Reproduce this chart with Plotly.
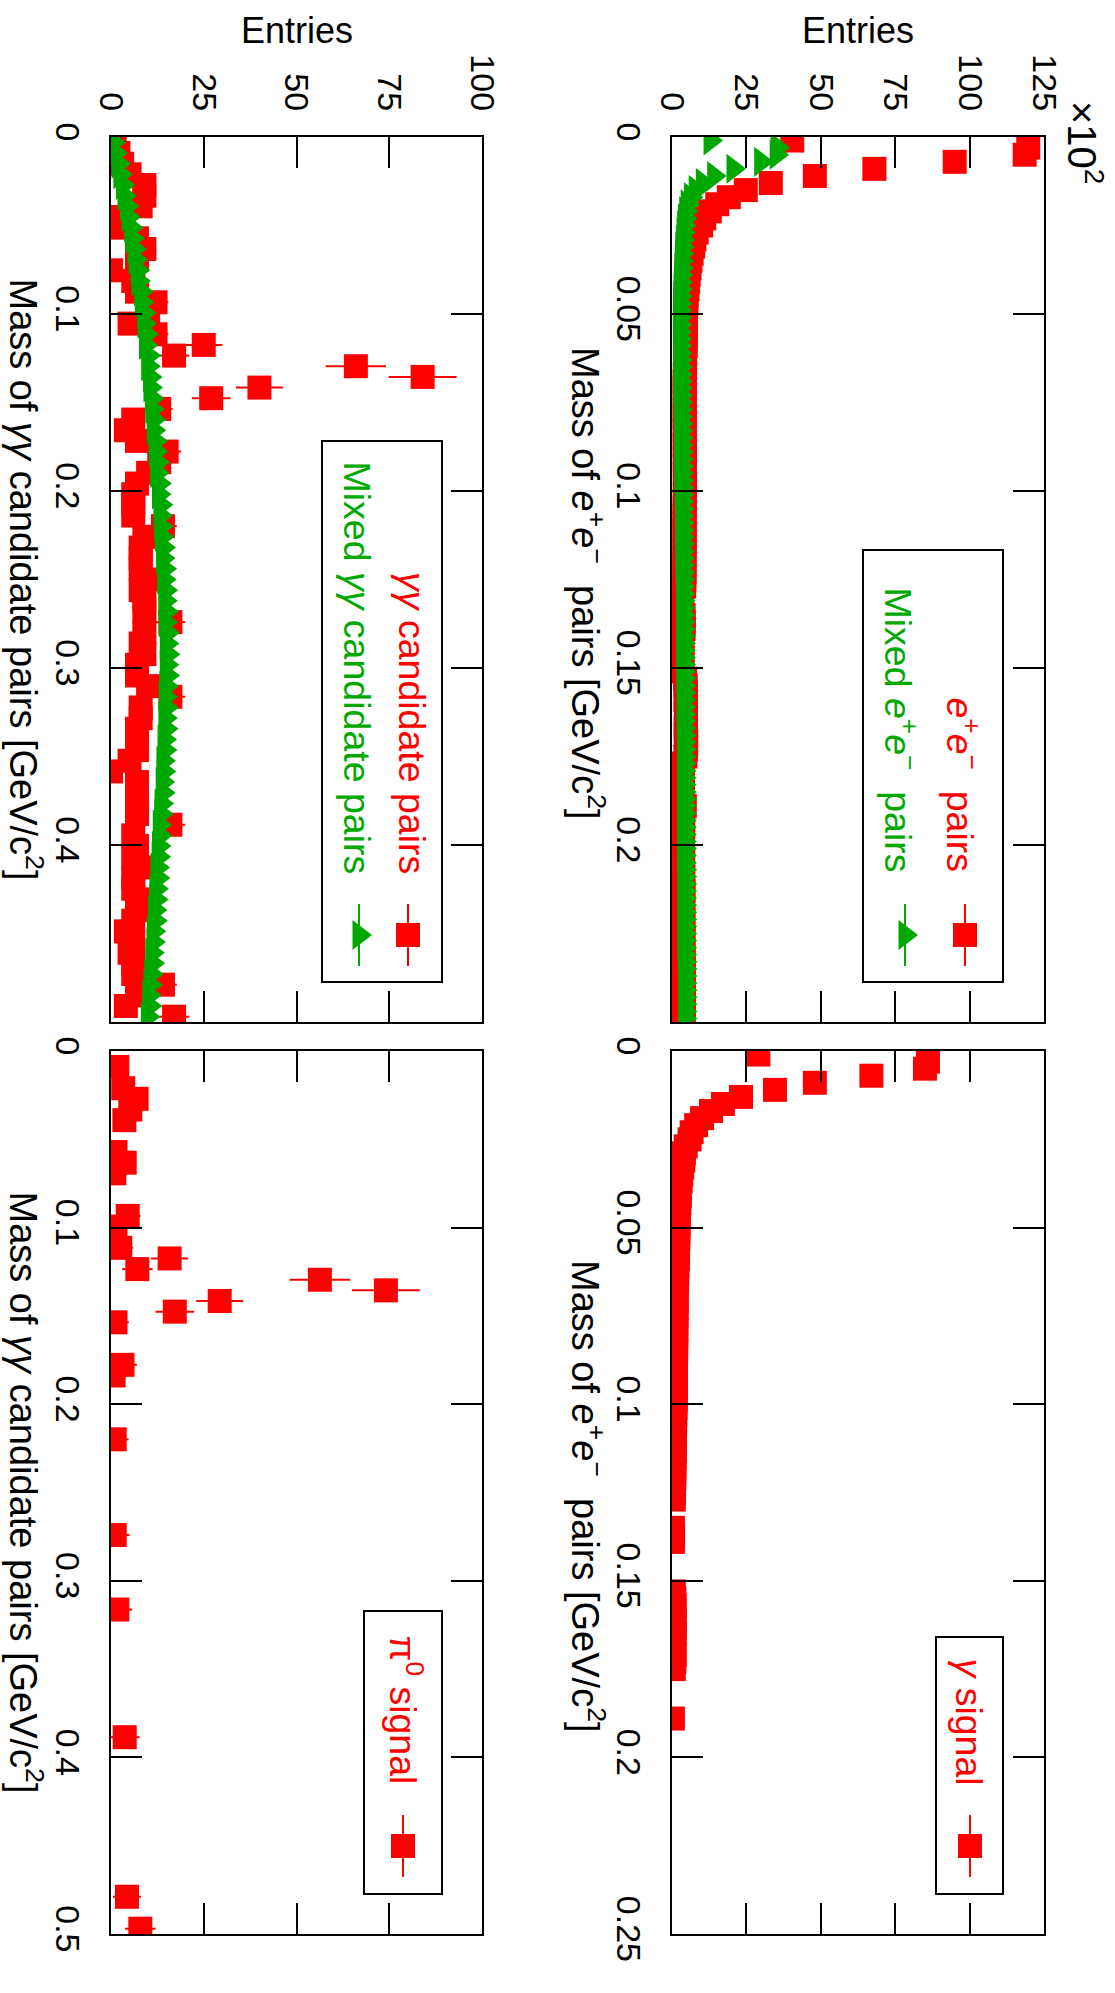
import math
import plotly.graph_objects as go

W, H = 1115, 1993
FONT = "Liberation Sans, Arial, Helvetica, sans-serif"
RED = "#ff0000"
GREEN = "#00a800"

# ---------------- gamma-gamma invariant mass (83 bins, 0 - 0.5 GeV/c^2) ----------------
GG_NBINS = 83
GG_MAX = 0.5

GG_CANDIDATES = [
    1, 2, 3, 5, 9, 9, 8, 1, 2, 7,
    9, 7, 0, 6, 7, 12, 10, 5, 12, 25,
    17, 66, 84, 40, 27, 13, 6, 4, 7, 15,
    13, 10, 7, 6, 6, 6, 14, 9, 8, 8,
    8, 12, 8, 9, 9, 16, 9, 8, 9, 7,
    7, 10, 16, 8, 8, 7, 7, 7, 5, 0,
    7, 7, 7, 7, 16, 6, 7, 6, 9, 6,
    6, 8, 7, 6, 4, 6, 5, 6, 6, 14,
    7, 4, 17,
]

GG_MIXED = [
    0.5, 1.1, 1.9, 2.4, 3.1, 3.5, 4.2, 4.6, 5.3, 5.6,
    6.2, 6.5, 7.1, 7.3, 8.0, 8.2, 8.8, 8.9, 9.4, 9.3,
    10.0, 9.9, 10.4, 10.5, 10.9, 11.0, 11.4, 11.4, 11.9, 12.0,
    12.4, 12.3, 12.9, 12.8, 13.3, 13.2, 13.4, 13.6, 14.0, 13.9,
    14.3, 14.2, 14.6, 14.5, 14.8, 14.6, 15.1, 14.9, 15.2, 14.9,
    15.1, 14.8, 14.6, 14.8, 14.5, 14.7, 14.3, 14.4, 14.0, 14.1,
    13.8, 13.9, 13.5, 13.4, 13.0, 13.1, 12.8, 12.7, 12.4, 12.5,
    12.1, 12.0, 11.7, 11.8, 11.4, 11.3, 11.0, 11.1, 10.7, 10.5,
    10.2, 10.3, 9.8,
]

# background-subtracted pi0 yield; None = bin below zero (not drawn)
PI0_SIGNAL = [
    None, 1.7, None, 3.3, 6.9, 5.2, 3.6, None, None, 1.2,
    3.7, 0.9, None, None, None, 4.5, 1.2, None, 2.5, 15.8,
    7.1, 56.3, 74.1, 29.3, 17.2, 1.2, None, None, None, 3.1,
    0.7, None, None, None, None, None, 1.0, None, None, None,
    None, None, None, None, None, 1.0, None, None, None, None,
    None, None, 1.7, None, None, None, None, None, None, None,
    None, None, None, None, 3.7, None, None, None, None, None,
    None, None, None, None, None, None, None, None, None, 4.3,
    None, None, 7.9,
]

# ---------------- e+e- invariant mass (125 bins, 0 - 0.25 GeV/c^2), entries x 10^2 ----------------
EE_NBINS = 125
EE_MAX = 0.25

EE_PAIRS = [
    40.4, 119.7, 118.5, 95.0, 68.0, 48.0, 33.2, 24.8, 19.1, 15.2,
    12.7, 10.8, 9.8, 8.3, 7.5, 7.1, 6.6, 6.2, 5.9, 5.6,
    5.4, 5.2, 4.9, 4.85, 4.7, 4.65, 4.6, 4.55, 4.6, 4.6,
    4.4, 4.35, 4.4, 4.3, 4.25, 4.25, 4.3, 4.3, 4.25, 4.25,
    4.3, 4.3, 4.3, 4.25, 4.35, 4.3, 4.3, 4.3, 4.35, 4.35,
    4.3, 4.3, 4.25, 4.2, 4.25, 4.2, 4.2, 4.25, 4.2, 4.2,
    4.15, 4.2, 4.15, 4.1, 3.3, 3.4, 3.3, 3.9, 3.95, 3.9,
    3.4, 3.5, 3.4, 3.5, 3.4, 3.5, 4.4, 4.6, 4.7, 4.5,
    4.7, 4.65, 4.7, 4.6, 4.6, 4.8, 4.7, 4.5, 3.6, 3.5,
    3.6, 3.5, 3.7, 3.6, 4.3, 3.7, 3.6, 3.8, 3.5, 3.7,
    3.6, 3.8, 3.5, 3.7, 3.8, 3.6, 3.9, 3.7, 3.8, 3.6,
    3.9, 3.7, 3.8, 3.9, 3.6, 3.8, 3.9, 4.0, 3.8, 3.9,
    4.0, 3.7, 3.9, 4.0, 3.8,
]

EE_MIXED = [
    12.8, 35.3, 35.0, 29.8, 20.5, 14.0, 10.2, 7.8, 6.2, 5.1,
    4.6, 4.2, 3.9, 3.7, 3.5, 3.3, 3.2, 3.1, 3.0, 2.9,
    2.8, 2.7, 2.6, 2.6, 2.5, 2.5, 2.5, 2.5, 2.6, 2.6,
    2.6, 2.6, 2.7, 2.7, 2.7, 2.7, 2.8, 2.8, 2.8, 2.8,
    2.9, 2.9, 2.9, 2.9, 3.0, 3.0, 3.0, 3.0, 3.1, 3.1,
    3.1, 3.2, 3.2, 3.2, 3.3, 3.3, 3.3, 3.4, 3.4, 3.4,
    3.4, 3.5, 3.5, 3.5, 3.5, 3.6, 3.6, 3.6, 3.6, 3.6,
    3.7, 3.7, 3.7, 3.7, 3.7, 3.7, 3.8, 3.8, 3.8, 3.8,
    3.8, 3.8, 3.8, 3.8, 3.9, 3.9, 3.9, 3.9, 3.9, 3.9,
    3.9, 3.9, 4.0, 4.0, 4.0, 4.0, 4.0, 4.0, 4.0, 4.0,
    4.0, 4.0, 4.0, 4.1, 4.1, 4.1, 4.1, 4.1, 4.1, 4.1,
    4.1, 4.1, 4.1, 4.1, 4.1, 4.1, 4.2, 4.2, 4.2, 4.2,
    4.2, 4.2, 4.2, 4.2, 4.2,
]

# photon-conversion signal after mixed-event subtraction; None = below zero
GAMMA_SIGNAL = [
    29, 86, 85, 67, 48, 34.6, 23.2, 17.1, 13.1, 10.1,
    8.1, 6.6, 5.9, 4.6, 4.0, 3.8, 3.4, 3.1, 2.9, 2.7,
    2.6, 2.5, 2.3, 2.25, 2.2, 2.15, 2.1, 2.05, 2.0, 2.0,
    1.8, 1.75, 1.7, 1.6, 1.55, 1.55, 1.5, 1.5, 1.45, 1.45,
    1.4, 1.4, 1.4, 1.35, 1.35, 1.3, 1.3, 1.3, 1.25, 1.25,
    1.2, 1.1, 1.05, 1.0, 0.95, 0.9, 0.9, 0.85, 0.8, 0.8,
    0.75, 0.7, 0.65, 0.6, None, None, None, 0.3, 0.35, 0.3,
    None, None, None, None, None, None, 0.6, 0.8, 0.9, 0.7,
    0.9, 0.85, 0.9, 0.8, 0.7, 0.9, 0.8, 0.6, None, None,
    None, None, None, None, 0.3, None, None, None, None, None,
    None, None, None, None, None, None, None, None, None, None,
    None, None, None, None, None, None, None, None, None, None,
    None, None, None, None, None,
]

GG_ENTRY_TICKS = [0, 25, 50, 75, 100]
EE_ENTRY_TICKS = [0, 25, 50, 75, 100, 125]
GG_MASS_TICKS = [0, 0.1, 0.2, 0.3, 0.4, 0.5]
EE_MASS_TICKS = [0, 0.05, 0.1, 0.15, 0.2, 0.25]


def bin_centres(nbins, hi):
    return [(k + 0.5) * hi / nbins for k in range(nbins)]


def drawn(values, masses, errors=None):
    """Keep only bins with content inside the frame (>= 0)."""
    keep = [i for i, v in enumerate(values) if v is not None]
    xs = [values[i] for i in keep]
    ys = [masses[i] for i in keep]
    es = [errors[i] for i in keep] if errors is not None else None
    return xs, ys, es


gg_mass = bin_centres(GG_NBINS, GG_MAX)
ee_mass = bin_centres(EE_NBINS, EE_MAX)
gg_err = [math.sqrt(n) for n in GG_CANDIDATES]

SQUARE = dict(symbol="square", size=24, color=RED, line=dict(width=0))
TRIANGLE = dict(symbol="triangle-right", size=26, color=GREEN, line=dict(width=0))


def xerr(arr):
    return dict(type="data", array=arr, visible=True, color=RED, thickness=2, width=0)


fig = go.Figure()

# left column, top: gamma-gamma candidates and mixed-event background
fig.add_trace(go.Scatter(x=GG_CANDIDATES, y=gg_mass, mode="markers", marker=SQUARE,
                         error_x=xerr(gg_err), xaxis="x", yaxis="y", cliponaxis=True))
fig.add_trace(go.Scatter(x=GG_MIXED, y=gg_mass, mode="markers", marker=TRIANGLE,
                         xaxis="x", yaxis="y", cliponaxis=True))

# left column, bottom: pi0 signal
px, py, pe = drawn(PI0_SIGNAL, gg_mass, gg_err)
fig.add_trace(go.Scatter(x=px, y=py, mode="markers", marker=SQUARE, error_x=xerr(pe),
                         xaxis="x2", yaxis="y2", cliponaxis=True))

# right column, top: e+e- pairs and mixed pairs
fig.add_trace(go.Scatter(x=EE_PAIRS, y=ee_mass, mode="markers", marker=SQUARE,
                         xaxis="x3", yaxis="y3", cliponaxis=True))
fig.add_trace(go.Scatter(x=EE_MIXED, y=ee_mass, mode="markers", marker=TRIANGLE,
                         xaxis="x3", yaxis="y3", cliponaxis=True))

# right column, bottom: photon signal
gx, gy, _ = drawn(GAMMA_SIGNAL, ee_mass)
fig.add_trace(go.Scatter(x=gx, y=gy, mode="markers", marker=SQUARE,
                         xaxis="x4", yaxis="y4", cliponaxis=True))

# ---------------- frames ----------------
FRAMES = {
    "": ((111, 482), (137, 1022)),
    "2": ((111, 482), (1051, 1934)),
    "3": ((672, 1044), (137, 1022)),
    "4": ((672, 1044), (1051, 1934)),
}


def xdom(px_range):
    return [px_range[0] / W, px_range[1] / W]


def ydom(py_range):
    return [1 - py_range[1] / H, 1 - py_range[0] / H]


AXIS = dict(showline=True, linecolor="black", linewidth=2, mirror="ticks",
            ticks="inside", ticklen=31, tickwidth=2, tickcolor="black",
            showgrid=False, zeroline=False, tickangle=90, automargin=False,
            ticklabelstandoff=12,
            tickfont=dict(family=FONT, size=34, color="black"))


def fmt(v):
    return "0" if v == 0 else f"{v:g}"


layout_axes = {}
for sid, (xp, yp) in FRAMES.items():
    left = sid in ("", "2")
    top = sid in ("", "3")
    e_ticks = GG_ENTRY_TICKS if left else EE_ENTRY_TICKS
    m_ticks = GG_MASS_TICKS if left else EE_MASS_TICKS
    m_text = [fmt(v) for v in m_ticks]
    if top:
        m_text[-1] = ""
    layout_axes["xaxis" + sid] = dict(
        AXIS, domain=xdom(xp), range=[0, e_ticks[-1]], side="top",
        tickvals=e_ticks, ticktext=[fmt(v) for v in e_ticks],
        showticklabels=top, anchor="y" + sid)
    layout_axes["yaxis" + sid] = dict(
        AXIS, domain=ydom(yp), range=[m_ticks[-1], 0], side="left",
        tickvals=m_ticks, ticktext=m_text, anchor="x" + sid)

# pixel-space overlay for legend symbols
layout_axes["xaxis5"] = dict(domain=[0, 1], range=[0, W], visible=False, anchor="y5")
layout_axes["yaxis5"] = dict(domain=[0, 1], range=[H, 0], visible=False, anchor="x5")

LEG_SQUARES_X = [408, 965, 403, 970]
LEG_SQUARES_Y = [935, 935, 1846, 1846]
LEG_TRIANGLES_X = [359, 905]
LEG_TRIANGLES_Y = [935, 935]


def yerr_px(n, color):
    return dict(type="data", array=[31] * n, visible=True, color=color, thickness=2, width=0)


fig.add_trace(go.Scatter(x=LEG_SQUARES_X, y=LEG_SQUARES_Y, mode="markers", marker=SQUARE,
                         error_y=yerr_px(4, RED), xaxis="x5", yaxis="y5", cliponaxis=False))
fig.add_trace(go.Scatter(x=LEG_TRIANGLES_X, y=LEG_TRIANGLES_Y, mode="markers", marker=TRIANGLE,
                         error_y=yerr_px(2, GREEN), xaxis="x5", yaxis="y5", cliponaxis=False))


def note(text, x, y, size=34, color="black", angle=0, xanchor="center", yanchor="middle"):
    return dict(text=text, x=x / W, y=1 - y / H, xref="paper", yref="paper",
                showarrow=False, textangle=angle, xanchor=xanchor, yanchor=yanchor,
                borderpad=0, font=dict(family=FONT, size=size, color=color))


GG = "<i>γγ</i>"
EE = "<i>e</i><sup>+</sup><i>e</i><sup>−</sup>"
UNIT = "[GeV/c<sup>2</sup>]"
TITLE = 38
LEG = 37.5

annotations = [
    note("Entries", 296.5, 30, size=36),
    note("Entries", 858, 30, size=36),
    note("×10<sup>2</sup>", 1085, 142, size=40, angle=90),
    note(f"Mass of {GG} candidate pairs {UNIT}", 1, 579.5, size=TITLE, angle=90, xanchor="left"),
    note(f"Mass of {GG} candidate pairs {UNIT}", 1, 1492.5, size=TITLE, angle=90, xanchor="left"),
    note(f"Mass of {EE}  pairs {UNIT}", 588, 583, size=TITLE, angle=90),
    note(f"Mass of {EE}  pairs {UNIT}", 588, 1496, size=TITLE, angle=90),
    # legends
    note(f"{GG} candidate pairs", 412, 875, size=LEG, color=RED, angle=90, yanchor="bottom"),
    note(f"Mixed {GG} candidate pairs", 357, 875, size=LEG, color=GREEN, angle=90, yanchor="bottom"),
    note(f"{EE}  pairs", 963, 873, size=LEG, color=RED, angle=90, yanchor="bottom"),
    note(f"Mixed {EE}  pairs", 901, 873, size=LEG, color=GREEN, angle=90, yanchor="bottom"),
    note("π<sup>0</sup> signal", 406, 1786, size=LEG, color=RED, angle=90, yanchor="bottom"),
    note("<i>γ</i> signal", 969, 1786, size=LEG, color=RED, angle=90, yanchor="bottom"),
]

LEGEND_BOXES = [(322, 441, 442, 982), (863, 550, 1003, 982),
                (364, 1611, 442, 1894), (936, 1637, 1003, 1894)]
shapes = [dict(type="rect", xref="paper", yref="paper",
               x0=x0 / W, x1=x1 / W, y0=1 - y1 / H, y1=1 - y0 / H,
               line=dict(color="black", width=2), fillcolor="rgba(0,0,0,0)", layer="above")
          for (x0, y0, x1, y1) in LEGEND_BOXES]

fig.update_layout(
    width=W, height=H, margin=dict(l=0, r=0, t=0, b=0),
    paper_bgcolor="white", plot_bgcolor="rgba(0,0,0,0)", showlegend=False,
    font=dict(family=FONT, color="black"),
    annotations=annotations, shapes=shapes,
    **layout_axes,
)

fig.write_html("out.html")
